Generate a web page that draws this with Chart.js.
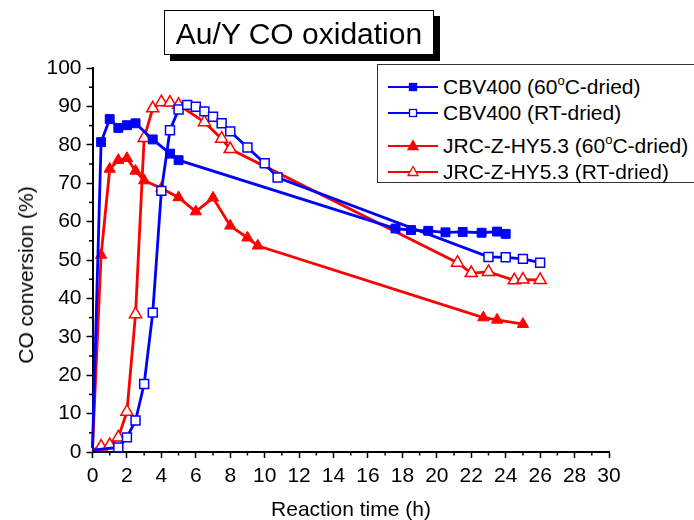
<!DOCTYPE html>
<html>
<head>
<meta charset="utf-8">
<script src="https://cdn.jsdelivr.net/npm/chart.js@4.4.1/dist/chart.umd.min.js"></script>
<style>
  html, body { margin: 0; padding: 0; background: #fff; }
  #wrap { position: relative; width: 694px; height: 520px; overflow: hidden; font-family: 'Liberation Sans', Arial, sans-serif; color: #000; }
  #c { position: absolute; left: 0; top: 0; }
  .ov { position: absolute; white-space: nowrap; }
  #titleBox { left: 164px; top: 10px; width: 270px; height: 45px; box-sizing: border-box; border: 1.5px solid #000; background: #fff; box-shadow: 6px 6px 0 #000; font-size: 30px; text-align: center; line-height: 43px; padding-top: 1px; }
  #legendBox { left: 377px; top: 64px; width: 330px; height: 119px; box-sizing: border-box; border: 1.5px solid #333; background: #fff; }
  .lgText { font-size: 21px; line-height: 24px; }
  .lgText sup { font-size: 13px; vertical-align: baseline; position: relative; top: -9px; }
  .axTitle { font-size: 21px; line-height: 24px; }
</style>
</head>
<body>
<div id="wrap">
  <canvas id="c" width="694" height="520"></canvas>
  <div class="ov" id="titleBox">Au/Y CO oxidation</div>
  <div class="ov" id="legendBox"></div>
  <div id="legendRows"></div>
  <div class="ov axTitle" style="left:351px;top:509px;transform:translate(-50%,-50%);">Reaction time (h)</div>
  <div class="ov axTitle" style="left:26px;top:275px;transform:translate(-50%,-50%) rotate(-90deg);">CO conversion (%)</div>
</div>
<script>
// ---- data ----
const cbv60Hours  = [0, 0.5, 1, 1.5, 2, 2.5, 3.5, 4.5, 5, 17.6, 18.5, 19.5, 20.5, 21.5, 22.6, 23.5, 24];
const cbv60Values = [1, 80.7, 86.7, 84.4, 85.1, 85.6, 81.4, 77.7, 76.0, 58.2, 57.8, 57.6, 57.2, 57.3, 57.1, 57.4, 56.8];

const cbvRTHours  = [0, 1.5, 2, 2.5, 3, 3.5, 4, 4.5, 5, 5.5, 6, 6.5, 7, 7.5, 8, 9, 10, 10.75, 23, 24, 25, 26];
const cbvRTValues = [0.5, 1.2, 3.8, 8.2, 17.7, 36.3, 68.0, 83.8, 89.2, 90.4, 89.9, 88.7, 87.3, 85.6, 83.5, 79.3, 75.2, 71.5, 50.8, 50.7, 50.3, 49.3];

const jrc60Hours  = [0, 0.5, 1, 1.5, 2, 2.5, 3, 4, 5, 6, 7, 8, 9, 9.6, 22.7, 23.5, 25];
const jrc60Values = [1, 51.3, 73.7, 76.0, 76.5, 73.2, 70.7, 68.7, 66.3, 62.6, 66.2, 58.9, 55.8, 53.7, 35.0, 34.4, 33.3];

const jrcRTHours  = [0, 0.5, 1, 1.5, 2, 2.5, 3, 3.5, 4, 4.5, 5, 6.5, 7.5, 8, 21.2, 22, 23, 24.5, 25, 26];
const jrcRTValues = [0.5, 1.4, 1.8, 3.8, 10.5, 35.9, 81.8, 89.5, 91.1, 91.0, 90.4, 85.9, 81.6, 78.9, 49.3, 46.6, 46.9, 44.7, 44.9, 44.8];

const seriesNames = ['CBV400 (60|C-dried)', 'CBV400 (RT-dried)', 'JRC-Z-HY5.3 (60|C-dried)', 'JRC-Z-HY5.3 (RT-dried)'];

const xMajorTicks = [0, 2, 4, 6, 8, 10, 12, 14, 16, 18, 20, 22, 24, 26, 28, 30];
const xMinorTicks = [1, 3, 5, 7, 9, 11, 13, 15, 17, 19, 21, 23, 25, 27, 29];
const yMajorTicks = [0, 10, 20, 30, 40, 50, 60, 70, 80, 90, 100];
const yMinorTicks = [5, 15, 25, 35, 45, 55, 65, 75, 85, 95];

// ---- styles ----
const BLUE = '#0000ff';
const RED = '#ff0000';
const FONT = "'Liberation Sans', Arial, sans-serif";

function pts(h, v) { return h.map((x, i) => ({ x: x, y: v[i] })); }
function hideFirst(r) { return ctx => (ctx.dataIndex === 0 ? 0 : r); }

const datasets = [
  { label: seriesNames[0], data: pts(cbv60Hours, cbv60Values), borderColor: BLUE, backgroundColor: BLUE,
    pointStyle: 'rect', pointRadius: hideFirst(6.3), pointBackgroundColor: BLUE, pointBorderColor: BLUE, pointBorderWidth: 1, fill: false },
  { label: seriesNames[1], data: pts(cbvRTHours, cbvRTValues), borderColor: BLUE, backgroundColor: BLUE,
    pointStyle: 'rect', pointRadius: hideFirst(6.3), pointBackgroundColor: '#fff', pointBorderColor: BLUE, pointBorderWidth: 1.5, fill: false },
  { label: seriesNames[2], data: pts(jrc60Hours, jrc60Values), borderColor: RED, backgroundColor: RED,
    pointStyle: 'triangle', pointRadius: hideFirst(6.5), pointBackgroundColor: RED, pointBorderColor: RED, pointBorderWidth: 1, fill: false },
  { label: seriesNames[3], data: pts(jrcRTHours, jrcRTValues), borderColor: RED, backgroundColor: RED,
    pointStyle: 'triangle', pointRadius: hideFirst(7), pointBackgroundColor: '#fff', pointBorderColor: RED, pointBorderWidth: 1.5, fill: false }
];
datasets.forEach(d => { d.borderWidth = 2.8; d.tension = 0; d.clip = false; d.pointHoverRadius = 0; });

const minorTickPlugin = {
  id: 'minorTicks',
  afterDraw(chart) {
    const { ctx, scales: { x, y } } = chart;
    ctx.save();
    ctx.strokeStyle = '#000';
    ctx.lineWidth = 1.5;
    xMinorTicks.forEach(v => {
      const px = x.getPixelForValue(v);
      ctx.beginPath(); ctx.moveTo(px, x.top); ctx.lineTo(px, x.top + 3.5); ctx.stroke();
    });
    yMinorTicks.forEach(v => {
      const py = y.getPixelForValue(v);
      ctx.beginPath(); ctx.moveTo(y.right, py); ctx.lineTo(y.right - 3.5, py); ctx.stroke();
    });
    ctx.restore();
  }
};

new Chart(document.getElementById('c'), {
  type: 'line',
  data: { datasets: datasets },
  plugins: [minorTickPlugin],
  options: {
    responsive: false,
    animation: false,
    events: [],
    layout: { padding: { left: 0, right: 85, top: 68, bottom: 0 } },
    plugins: { legend: { display: false }, tooltip: { enabled: false }, title: { display: false } },
    scales: {
      x: {
        type: 'linear', min: 0, max: 30,
        afterFit: s => { s.height = 68; },
        afterBuildTicks: s => { s.ticks = xMajorTicks.map(v => ({ value: v })); },
        ticks: { color: '#000', font: { family: FONT, size: 21 }, padding: 6, maxRotation: 0, autoSkip: false },
        grid: { drawOnChartArea: false, drawTicks: true, tickLength: 6, tickWidth: 1.5, tickColor: '#000' },
        border: { display: true, color: '#000', width: 2 }
      },
      y: {
        type: 'linear', min: 0, max: 100,
        afterFit: s => { s.width = 92.5; },
        afterBuildTicks: s => { s.ticks = yMajorTicks.map(v => ({ value: v })); },
        ticks: { color: '#000', font: { family: FONT, size: 21 }, padding: 5, autoSkip: false },
        grid: { drawOnChartArea: false, drawTicks: true, tickLength: 6, tickWidth: 1.5, tickColor: '#000' },
        border: { display: true, color: '#000', width: 2 }
      }
    }
  }
});

// ---- legend (HTML text + SVG symbol samples from dataset styles) ----
const rowCenters = [87.3, 112.7, 145.7, 171.7];
const rows = document.getElementById('legendRows');
datasets.forEach((d, i) => {
  const cy = rowCenters[i];
  const sym = document.createElementNS('http://www.w3.org/2000/svg', 'svg');
  sym.setAttribute('width', '52'); sym.setAttribute('height', '16');
  sym.setAttribute('class', 'ov');
  sym.style.left = '387px'; sym.style.top = (cy - 8) + 'px';
  const line = document.createElementNS(sym.namespaceURI, 'line');
  line.setAttribute('x1', '1'); line.setAttribute('x2', '51'); line.setAttribute('y1', '8'); line.setAttribute('y2', '8');
  line.setAttribute('stroke', d.borderColor); line.setAttribute('stroke-width', '2.2');
  sym.appendChild(line);
  let mk;
  if (d.pointStyle === 'rect') {
    mk = document.createElementNS(sym.namespaceURI, 'rect');
    mk.setAttribute('x', '22.5'); mk.setAttribute('y', '4.5'); mk.setAttribute('width', '7'); mk.setAttribute('height', '7');
  } else {
    mk = document.createElementNS(sym.namespaceURI, 'polygon');
    mk.setAttribute('points', '26,2.5 31,11.5 21,11.5');
  }
  mk.setAttribute('fill', d.pointBackgroundColor); mk.setAttribute('stroke', d.pointBorderColor); mk.setAttribute('stroke-width', '1.3');
  sym.appendChild(mk);
  rows.appendChild(sym);

  const t = document.createElement('div');
  t.className = 'ov lgText';
  t.style.left = '443px'; t.style.top = (cy - 12) + 'px';
  const parts = d.label.split('|');
  t.appendChild(document.createTextNode(parts[0]));
  if (parts.length > 1) {
    const s = document.createElement('sup'); s.textContent = 'o'; t.appendChild(s);
    t.appendChild(document.createTextNode(parts[1]));
  }
  rows.appendChild(t);
});
document.getElementById('wrap').appendChild(rows);
</script>
</body>
</html>
